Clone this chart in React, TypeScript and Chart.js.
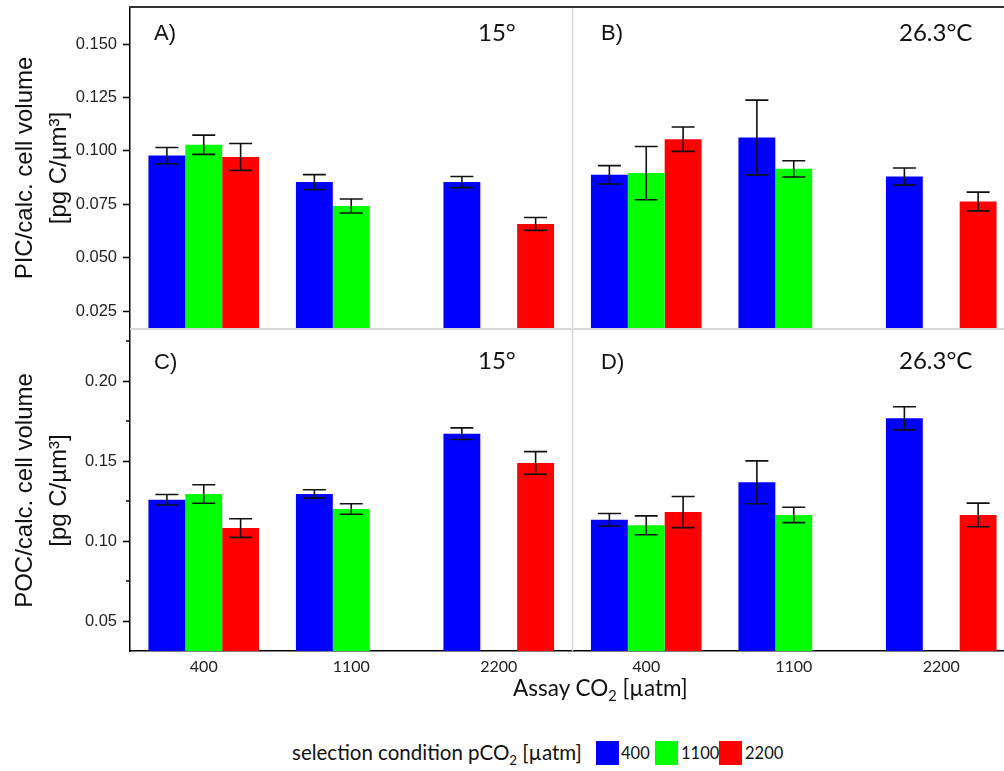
import React, { useEffect, useRef } from "react";
import { Chart, registerables } from "chart.js";

Chart.register(...registerables);

// ---------- DATA ----------
// Assay CO2 categories: first three = 15° panel, last three = 26.3°C panel
const ASSAY_LABELS = ["400", "1100", "2200", "400", "1100", "2200"];
const SELECTION_LABELS = ["400", "1100", "2200"];
const SERIES_COLORS = ["#0000FF", "#00FF00", "#FF0000"];
const PANEL_TEMPS = ["15°", "26.3°C"];

// PIC / calc. cell volume (top row: A, B)
const PIC_SEL400 = [0.0978, 0.0854, 0.0854, 0.0888, 0.1063, 0.088];
const PIC_SEL1100 = [0.1029, 0.0742, null, 0.0896, 0.0916, null];
const PIC_SEL2200 = [0.0972, null, 0.0658, 0.1055, null, 0.0763];
const PIC_ERR400 = [0.0038, 0.0035, 0.0026, 0.0043, 0.0175, 0.004];
const PIC_ERR1100 = [0.0045, 0.0033, null, 0.0125, 0.0038, null];
const PIC_ERR2200 = [0.0063, null, 0.003, 0.0057, null, 0.0044];

// POC / calc. cell volume (bottom row: C, D)
const POC_SEL400 = [0.1258, 0.1294, 0.1671, 0.1133, 0.1367, 0.1767];
const POC_SEL1100 = [0.1294, 0.12, null, 0.1098, 0.1163, null];
const POC_SEL2200 = [0.1081, null, 0.1488, 0.1181, null, 0.1163];
const POC_ERR400 = [0.0033, 0.0026, 0.0036, 0.0039, 0.0134, 0.0072];
const POC_ERR1100 = [0.0058, 0.0033, null, 0.0059, 0.0048, null];
const POC_ERR2200 = [0.0058, null, 0.0071, 0.0097, null, 0.0074];

// Axis ticks / ranges
const PIC_TICKS = [0.025, 0.05, 0.075, 0.1, 0.125, 0.15];
const PIC_MIN = 0.0166;
const PIC_MAX = 0.1674;
const POC_TICKS = [0.05, 0.1, 0.15, 0.2];
const POC_MINOR_TICKS = [0.075, 0.125, 0.175, 0.225];
const POC_MIN = 0.03125;
const POC_MAX = 0.2319;

const PIC_TITLE = ["PIC/calc. cell volume", "[pg C/µm³]"];
const POC_TITLE = ["POC/calc. cell volume", "[pg C/µm³]"];

// ---------- PLUGINS ----------
const errorBarPlugin = {
  id: "errorBars",
  afterDatasetsDraw(chart: any, _args: any, opts: any) {
    const errs: (number | null)[][] = opts.errors || [];
    const { ctx } = chart;
    const y = chart.scales.y;
    ctx.save();
    ctx.strokeStyle = "#111";
    ctx.lineWidth = 1.6;
    chart.data.datasets.forEach((ds: any, i: number) => {
      const meta = chart.getDatasetMeta(i);
      ds.data.forEach((v: number | null, j: number) => {
        const e = errs[i] ? errs[i][j] : null;
        if (v == null || e == null) return;
        const bar = meta.data[j];
        if (!bar) return;
        const x = bar.x;
        const yt = y.getPixelForValue(v + e);
        const yb = y.getPixelForValue(v - e);
        const hw = 11.5;
        ctx.beginPath();
        ctx.moveTo(x, yt);
        ctx.lineTo(x, yb);
        ctx.moveTo(x - hw, yt);
        ctx.lineTo(x + hw, yt);
        ctx.moveTo(x - hw, yb);
        ctx.lineTo(x + hw, yb);
        ctx.stroke();
      });
    });
    ctx.restore();
  },
};

const framePlugin = {
  id: "frame",
  afterDatasetsDraw(chart: any, _args: any, opts: any) {
    const { ctx, chartArea } = chart;
    const xs = chart.scales.x;
    const ys = chart.scales.y;
    ctx.save();
    // divider between the two temperature panels
    const xd = xs.getPixelForValue(2.5);
    ctx.strokeStyle = "#d6d6d6";
    ctx.lineWidth = 1.5;
    ctx.beginPath();
    ctx.moveTo(xd, chartArea.top);
    ctx.lineTo(xd, chartArea.bottom);
    ctx.stroke();
    if (opts.bottomGray) {
      ctx.strokeStyle = "#d9d9d9";
      ctx.lineWidth = 2;
      ctx.beginPath();
      ctx.moveTo(chartArea.left, chartArea.bottom);
      ctx.lineTo(chartArea.right, chartArea.bottom);
      ctx.stroke();
    }
    if (opts.topBorder) {
      ctx.strokeStyle = "#333";
      ctx.lineWidth = 2;
      ctx.beginPath();
      ctx.moveTo(chartArea.left - 1, chartArea.top);
      ctx.lineTo(chartArea.right, chartArea.top);
      ctx.stroke();
    }
    if (opts.minorTicks) {
      ctx.strokeStyle = "#000";
      ctx.lineWidth = 1.5;
      opts.minorTicks.forEach((v: number) => {
        const yy = ys.getPixelForValue(v);
        if (yy < chartArea.top || yy > chartArea.bottom) return;
        ctx.beginPath();
        ctx.moveTo(chartArea.left - 4, yy);
        ctx.lineTo(chartArea.left, yy);
        ctx.stroke();
      });
    }
    ctx.restore();
  },
};

function makeConfig(opts: {
  series: (number | null)[][];
  errors: (number | null)[][];
  ticks: number[];
  min: number;
  max: number;
  decimals: number;
  title: string[];
  showX: boolean;
  paddingTop: number;
  paddingBottom: number;
  topBorder: boolean;
  bottomGray: boolean;
  minorTicks?: number[];
}): any {
  return {
    type: "bar",
    data: {
      labels: ASSAY_LABELS,
      datasets: opts.series.map((d, i) => ({
        label: SELECTION_LABELS[i],
        data: d,
        backgroundColor: SERIES_COLORS[i],
        borderWidth: 0,
        categoryPercentage: 0.75,
        barPercentage: 1.0,
      })),
    },
    options: {
      responsive: false,
      animation: false,
      events: [],
      layout: {
        autoPadding: false,
        padding: { top: opts.paddingTop, bottom: opts.paddingBottom, left: 0, right: 0 },
      },
      plugins: {
        legend: { display: false },
        tooltip: { enabled: false },
        errorBars: { errors: opts.errors },
        frame: {
          topBorder: opts.topBorder,
          bottomGray: opts.bottomGray,
          minorTicks: opts.minorTicks,
        },
      },
      scales: {
        x: {
          type: "category",
          display: opts.showX,
          offset: true,
          grid: { display: false, drawTicks: false },
          border: { display: true, color: "#000", width: 1.5 },
          ticks: {
            autoSkip: false,
            maxRotation: 0,
            padding: 6,
            color: "#222",
            font: { family: "Lato", size: 16 },
          },
          afterFit(scale: any) {
            scale.height = opts.showX ? 40 : 0;
            scale.paddingLeft = 0;
            scale.paddingRight = 0;
          },
        },
        y: {
          type: "linear",
          min: opts.min,
          max: opts.max,
          afterBuildTicks(scale: any) {
            scale.ticks = opts.ticks.map((v) => ({ value: v }));
          },
          afterFit(scale: any) {
            scale.width = 130;
            scale.paddingTop = 0;
            scale.paddingBottom = 0;
          },
          grid: {
            drawOnChartArea: false,
            drawTicks: true,
            tickLength: 7,
            tickColor: "#000",
            tickWidth: 1.5,
          },
          border: { display: true, color: "#000", width: 1.5 },
          ticks: {
            padding: 6,
            color: "#222",
            font: { family: "Liberation Sans", size: 16.5 },
            callback: (v: any) => Number(v).toFixed(opts.decimals),
          },
          title: {
            display: true,
            text: opts.title,
            color: "#111",
            font: { family: "Liberation Sans", size: 24, lineHeight: 1.42 },
            padding: { top: 8, bottom: 0 },
          },
        },
      },
    },
    plugins: [framePlugin, errorBarPlugin],
  };
}

const abs = (left: number, top: number, extra: React.CSSProperties = {}): React.CSSProperties => ({
  position: "absolute",
  left,
  top,
  lineHeight: 1,
  whiteSpace: "nowrap",
  color: "#111",
  ...extra,
});

const panelFont: React.CSSProperties = { fontFamily: "Liberation Sans", fontSize: 22 };
const tempFont: React.CSSProperties = { fontFamily: "Lato", fontSize: 24 };

export default function App() {
  const topRef = useRef<HTMLCanvasElement | null>(null);
  const botRef = useRef<HTMLCanvasElement | null>(null);

  useEffect(() => {
    const top = new Chart(
      topRef.current as HTMLCanvasElement,
      makeConfig({
        series: [PIC_SEL400, PIC_SEL1100, PIC_SEL2200],
        errors: [PIC_ERR400, PIC_ERR1100, PIC_ERR2200],
        ticks: PIC_TICKS,
        min: PIC_MIN,
        max: PIC_MAX,
        decimals: 3,
        title: PIC_TITLE,
        showX: false,
        paddingTop: 7,
        paddingBottom: 2,
        topBorder: true,
        bottomGray: true,
      })
    );
    const bot = new Chart(
      botRef.current as HTMLCanvasElement,
      makeConfig({
        series: [POC_SEL400, POC_SEL1100, POC_SEL2200],
        errors: [POC_ERR400, POC_ERR1100, POC_ERR2200],
        ticks: POC_TICKS,
        min: POC_MIN,
        max: POC_MAX,
        decimals: 2,
        title: POC_TITLE,
        showX: true,
        paddingTop: 0,
        paddingBottom: 0,
        topBorder: false,
        bottomGray: false,
        minorTicks: POC_MINOR_TICKS,
      })
    );
    return () => {
      top.destroy();
      bot.destroy();
    };
  }, []);

  const legendNum: React.CSSProperties = { fontFamily: "Lato", fontSize: 16.5 };

  return (
    <div
      style={{
        position: "absolute",
        left: 0,
        top: 0,
        width: 1004,
        height: 771,
        overflow: "hidden",
        background: "#fff",
      }}
    >
      <canvas ref={topRef} width={1015} height={331} style={{ position: "absolute", left: 0, top: 0 }} />
      <canvas ref={botRef} width={1015} height={361} style={{ position: "absolute", left: 0, top: 330 }} />

      {/* panel labels */}
      <div style={abs(154, 22, panelFont)}>A)</div>
      <div style={abs(478, 20, tempFont)}>{PANEL_TEMPS[0]}</div>
      <div style={abs(601, 22, panelFont)}>B)</div>
      <div style={abs(899, 20, tempFont)}>{PANEL_TEMPS[1]}</div>
      <div style={abs(154, 351, panelFont)}>C)</div>
      <div style={abs(478, 348, tempFont)}>{PANEL_TEMPS[0]}</div>
      <div style={abs(601, 351, panelFont)}>D)</div>
      <div style={abs(899, 348, tempFont)}>{PANEL_TEMPS[1]}</div>

      {/* x axis title */}
      <div style={abs(513, 677, { fontFamily: "Lato", fontSize: 22.5 })}>
        Assay CO
        <span style={{ fontSize: "0.65em", position: "relative", top: 5 }}>2</span> [µatm]
      </div>

      {/* legend */}
      <div style={abs(292, 742, { fontFamily: "Lato", fontSize: 20.5 })}>
        selection condition pCO
        <span style={{ fontSize: "0.65em", position: "relative", top: 5 }}>2</span> [µatm]
      </div>
      <div style={{ position: "absolute", left: 596, top: 741, width: 23, height: 24, background: SERIES_COLORS[0] }} />
      <div style={abs(621, 745, legendNum)}>{SELECTION_LABELS[0]}</div>
      <div style={{ position: "absolute", left: 655, top: 741, width: 23, height: 24, background: SERIES_COLORS[1] }} />
      <div style={abs(681, 745, legendNum)}>{SELECTION_LABELS[1]}</div>
      <div style={{ position: "absolute", left: 719, top: 741, width: 23, height: 24, background: SERIES_COLORS[2] }} />
      <div style={abs(745, 745, legendNum)}>{SELECTION_LABELS[2]}</div>
    </div>
  );
}
